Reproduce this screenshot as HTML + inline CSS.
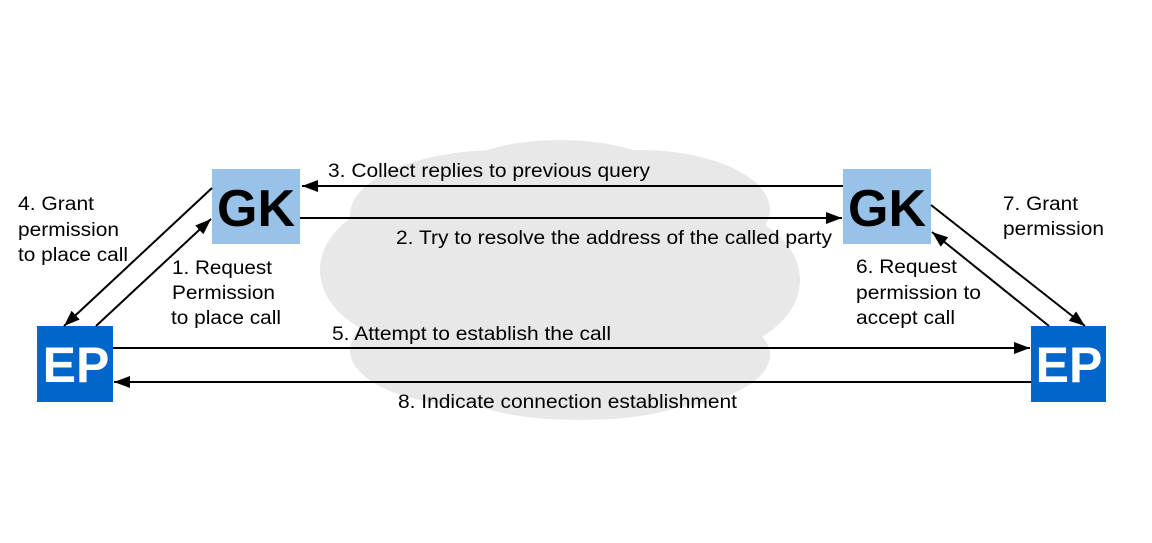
<!DOCTYPE html>
<html><head><meta charset="utf-8"><style>
html,body{margin:0;padding:0;background:#fff;}
svg{display:block;}
text{font-family:"Liberation Sans",Arial,sans-serif;}
</style></head><body>
<svg width="1152" height="543" viewBox="0 0 1152 543" xmlns="http://www.w3.org/2000/svg">
<defs>
<marker id="b" markerWidth="16" markerHeight="12" refX="16" refY="6" orient="auto" markerUnits="userSpaceOnUse">
<path d="M0,0 L16,6 L0,12 Z" fill="#000"/>
</marker>
</defs>
<g fill="#e8e8e8">
<ellipse cx="500" cy="215" rx="150" ry="65"/>
<ellipse cx="640" cy="210" rx="130" ry="60"/>
<ellipse cx="430" cy="270" rx="110" ry="75"/>
<ellipse cx="690" cy="280" rx="110" ry="75"/>
<ellipse cx="560" cy="300" rx="200" ry="95"/>
<ellipse cx="470" cy="350" rx="120" ry="55"/>
<ellipse cx="640" cy="355" rx="130" ry="55"/>
<ellipse cx="580" cy="390" rx="120" ry="30"/>
<ellipse cx="560" cy="180" rx="110" ry="40"/>
</g>
<rect x="212" y="169" width="88" height="75" fill="#99c2e8"/>
<rect x="843" y="169" width="88" height="75" fill="#99c2e8"/>
<rect x="37" y="326" width="76" height="76" fill="#0066cc"/>
<rect x="1031" y="326" width="75" height="76" fill="#0066cc"/>
<text x="256" y="226" font-size="52" font-weight="bold" text-anchor="middle" fill="#000">GK</text>
<text x="887" y="226" font-size="52" font-weight="bold" text-anchor="middle" fill="#000">GK</text>
<text x="76" y="382" font-size="50" font-weight="bold" text-anchor="middle" fill="#fff">EP</text>
<text x="1069" y="382" font-size="50" font-weight="bold" text-anchor="middle" fill="#fff">EP</text>
<g stroke="#000" stroke-width="2" fill="none">
<line x1="843" y1="186" x2="302" y2="186" marker-end="url(#b)"/>
<line x1="300" y1="218" x2="842" y2="218" marker-end="url(#b)"/>
<line x1="113" y1="348" x2="1030" y2="348" marker-end="url(#b)"/>
<line x1="1031" y1="382" x2="114" y2="382" marker-end="url(#b)"/>
<line x1="212" y1="188" x2="64" y2="326" marker-end="url(#b)"/>
<line x1="96" y1="326" x2="211" y2="219" marker-end="url(#b)"/>
<line x1="931" y1="205" x2="1085" y2="326" marker-end="url(#b)"/>
<line x1="1049" y1="326" x2="932" y2="232" marker-end="url(#b)"/>
</g>
<g font-size="19" fill="#000" lengthAdjust="spacingAndGlyphs">
<text x="18" y="210" textLength="76" lengthAdjust="spacingAndGlyphs">4. Grant</text>
<text x="18" y="236" textLength="101" lengthAdjust="spacingAndGlyphs">permission</text>
<text x="18" y="261" textLength="110" lengthAdjust="spacingAndGlyphs">to place call</text>
<text x="172" y="274" textLength="100" lengthAdjust="spacingAndGlyphs">1. Request</text>
<text x="172" y="299" textLength="103" lengthAdjust="spacingAndGlyphs">Permission</text>
<text x="171" y="324" textLength="110" lengthAdjust="spacingAndGlyphs">to place call</text>
<text x="328" y="177" textLength="322" lengthAdjust="spacingAndGlyphs">3. Collect replies to previous query</text>
<text x="396" y="244" textLength="436" lengthAdjust="spacingAndGlyphs">2. Try to resolve the address of the called party</text>
<text x="332" y="340" textLength="279" lengthAdjust="spacingAndGlyphs">5. Attempt to establish the call</text>
<text x="398" y="408" textLength="339" lengthAdjust="spacingAndGlyphs">8. Indicate connection establishment</text>
<text x="856" y="273" textLength="101" lengthAdjust="spacingAndGlyphs">6. Request</text>
<text x="856" y="299" textLength="125" lengthAdjust="spacingAndGlyphs">permission to</text>
<text x="856" y="324" textLength="99" lengthAdjust="spacingAndGlyphs">accept call</text>
<text x="1003" y="210" textLength="75" lengthAdjust="spacingAndGlyphs">7. Grant</text>
<text x="1003" y="235" textLength="101" lengthAdjust="spacingAndGlyphs">permission</text>
</g>
</svg>
</body></html>
